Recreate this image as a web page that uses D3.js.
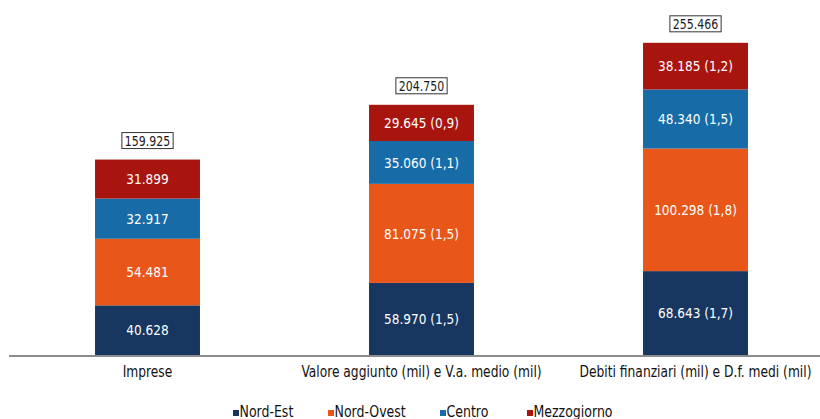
<!DOCTYPE html>
<html>
<head>
<meta charset="utf-8">
<script src="https://cdn.jsdelivr.net/npm/d3@7"></script>
<style>
  html, body { margin: 0; padding: 0; background: #ffffff; }
  svg { display: block; }
  text { font-family: "DejaVu Sans Condensed", "Liberation Sans Narrow", sans-serif; font-stretch: condensed; }
</style>
</head>
<body>
<svg id="chart" width="820" height="419"></svg>
<script>
// ---- Data ----
const categories = ["Imprese", "Valore aggiunto (mil) e V.a. medio (mil)", "Debiti finanziari (mil) e D.f. medi (mil)"];
const seriesNames = ["Nord-Est", "Nord-Ovest", "Centro", "Mezzogiorno"];
const seriesColors = ["#173760", "#e8561a", "#176ba6", "#a8150f"];
const nordEst     = [40.628, 58.970, 68.643];
const nordOvest   = [54.481, 81.075, 100.298];
const centro      = [32.917, 35.060, 48.340];
const mezzogiorno = [31.899, 29.645, 38.185];
// average values shown in brackets (null = none)
const nordEstAvg     = [null, "1,5", "1,7"];
const nordOvestAvg   = [null, "1,5", "1,8"];
const centroAvg      = [null, "1,1", "1,5"];
const mezzogiornoAvg = [null, "0,9", "1,2"];
const totals = [159.925, 204.750, 255.466];

const seriesValues = [nordEst, nordOvest, centro, mezzogiorno];
const seriesAvgs = [nordEstAvg, nordOvestAvg, centroAvg, mezzogiornoAvg];

const fmt = v => d3.format(".3f")(v); // dot-separated thousands as in the source, e.g. 40.628

// table for stack
const table = categories.map((c, i) => {
  const row = { cat: c };
  seriesNames.forEach((s, j) => row[s] = seriesValues[j][i]);
  return row;
});
const stack = d3.stack().keys(seriesNames)(table);

const svg = d3.select("#chart");
const x = d3.scaleBand().domain(categories).range([10.5, 832.5]).paddingInner(0.617).paddingOuter(0.3085);
const y = d3.scaleLinear().domain([0, 290.5]).range([355, 0]);

// bars
const layers = svg.append("g").selectAll("g").data(stack).join("g")
  .attr("fill", (d, i) => seriesColors[i]);
layers.selectAll("rect").data(d => d).join("rect")
  .attr("x", d => x(d.data.cat))
  .attr("width", x.bandwidth())
  .attr("y", d => y(d[1]))
  .attr("height", d => y(d[0]) - y(d[1]));

// segment labels
stack.forEach((layer, j) => {
  svg.append("g").selectAll("text").data(layer).join("text")
    .attr("transform", d => `translate(${x(d.data.cat) + x.bandwidth() / 2},${(y(d[0]) + y(d[1])) / 2}) scale(0.93,1)`)
    .attr("dy", "0.36em")
    .attr("text-anchor", "middle")
    .attr("fill", "#ffffff")
    .attr("font-size", 14.5)
    .text((d, i) => fmt(seriesValues[j][i]) + (seriesAvgs[j][i] ? " (" + seriesAvgs[j][i] + ")" : ""));
});

// totals with box
const totG = svg.append("g").selectAll("g").data(categories).join("g");
totG.each(function(c, i) {
  const g = d3.select(this);
  const cx = x(c) + x.bandwidth() / 2;
  const cy = y(totals[i]) - 19;
  const sx = 0.84;
  const t = g.append("text")
    .attr("transform", `translate(${cx},${cy}) scale(${sx},1)`)
    .attr("dy", "0.36em")
    .attr("text-anchor", "middle").attr("font-size", 14.5).attr("fill", "#1a1a1a")
    .text(fmt(totals[i]));
  const w = t.node().getComputedTextLength() * sx;
  g.insert("rect", "text")
    .attr("x", cx - w / 2 - 3).attr("y", cy - 8)
    .attr("width", w + 6).attr("height", 16)
    .attr("fill", "#fff").attr("stroke", "#333").attr("stroke-width", 1);
});

// axis
const xAxis = d3.axisBottom(x).tickSize(0).tickPadding(10);
const ax = svg.append("g").attr("transform", "translate(0,356)").call(xAxis);
ax.select(".domain").remove();
ax.selectAll("text").attr("font-size", 15).attr("fill", "#111")
  .attr("transform", "scale(0.91,1)")
  .style("font-family", '"DejaVu Sans Condensed", "Liberation Sans Narrow", sans-serif');
svg.append("line").attr("x1", 9).attr("x2", 820).attr("y1", 356).attr("y2", 356)
  .attr("stroke", "#666").attr("stroke-width", 1.6);

// legend
const legendX = [233, 328, 440, 527];
const lg = svg.append("g").selectAll("g").data(seriesNames).join("g")
  .attr("transform", (d, i) => `translate(${legendX[i]},0)`);
lg.append("rect").attr("x", 0).attr("y", 410).attr("width", 6).attr("height", 6)
  .attr("fill", (d, i) => seriesColors[i]);
lg.append("text").attr("transform", "translate(6.5,416.5) scale(0.93,1)")
  .attr("font-size", 15).attr("fill", "#111").text(d => d);
</script>
</body>
</html>
